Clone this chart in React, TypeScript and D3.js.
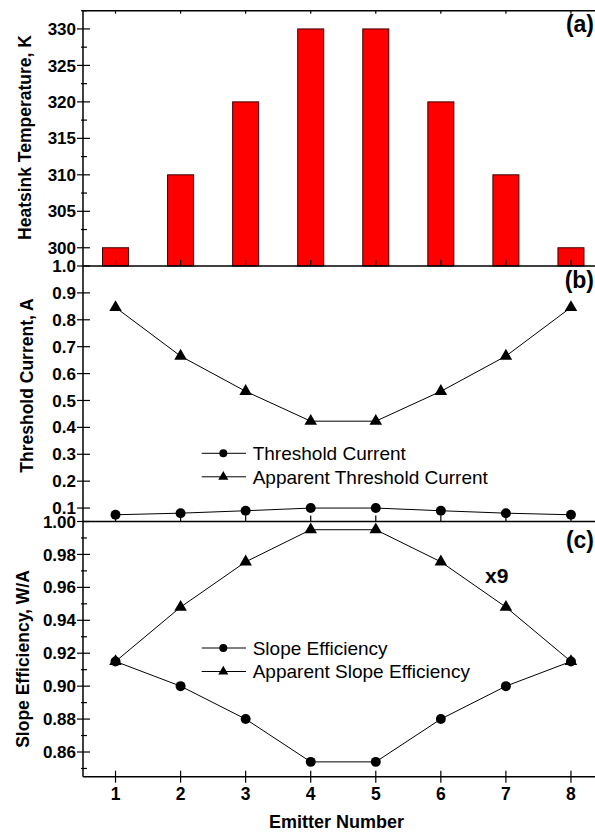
import React, { useRef, useEffect } from 'react';
import * as d3 from 'd3';

// values
const emitters = [1, 2, 3, 4, 5, 6, 7, 8];
const heatsinkTemp = [300, 310, 320, 330, 330, 320, 310, 300];
const thresholdCurrent = [0.075, 0.081, 0.09, 0.1, 0.1, 0.09, 0.081, 0.075];
const apparentThreshold = [0.846, 0.665, 0.534, 0.423, 0.423, 0.534, 0.665, 0.846];
const slopeEfficiency = [0.915, 0.9, 0.88, 0.854, 0.854, 0.88, 0.9, 0.915];
const apparentSlope = [0.915, 0.948, 0.9755, 0.995, 0.995, 0.9755, 0.948, 0.915];

const tempTicks = [300, 305, 310, 315, 320, 325, 330];
const tempMinor = [302.5, 307.5, 312.5, 317.5, 322.5, 327.5, 332.5];
const thresholdTicks = [0.1, 0.2, 0.3, 0.4, 0.5, 0.6, 0.7, 0.8, 0.9, 1.0];
const slopeTicks = [0.86, 0.88, 0.9, 0.92, 0.94, 0.96, 0.98, 1.0];
const slopeMinor = [0.85, 0.87, 0.89, 0.91, 0.93, 0.95, 0.97, 0.99];

const FONT = '"Liberation Sans", Arial, sans-serif';

export default function App() {
  const svgRef = useRef<SVGSVGElement>(null);

  useEffect(() => {
    const width = 595;
    const height = 835;
    const left = 83;
    const top = 10.7;
    const ab = 266;
    const bc = 521.5;
    const bottom = 776.7;

    const svg = d3.select(svgRef.current).attr('width', width).attr('height', height);
    svg.selectAll('*').remove();

    const x = d3.scaleLinear().domain([0.5, 8.5]).range([left, 603.5]);
    const ya = d3.scaleLinear().domain([297.5, 332.5]).range([ab, top]);
    const yb = d3.scaleLinear().domain([0.05, 1.0]).range([bc, ab]);
    const yc = d3.scaleLinear().domain([0.845, 1.0]).range([bottom, bc]);

    // bars (a), 0.4 emitter wide
    const barW = x(1.4) - x(1);
    svg.append('g')
      .selectAll('rect')
      .data(heatsinkTemp)
      .join('rect')
      .attr('x', (d, i) => x(emitters[i]) - barW / 2)
      .attr('y', d => ya(d))
      .attr('width', barW)
      .attr('height', d => ab - ya(d))
      .attr('fill', '#ff0000')
      .attr('stroke', '#3a0000')
      .attr('stroke-width', 1);

    // frame lines
    const frame = svg.append('g').attr('stroke', '#000').attr('stroke-width', 1.5);
    frame.append('line').attr('x1', left).attr('x2', 610).attr('y1', top).attr('y2', top);
    [ab, bc, bottom].forEach(yy => {
      frame.append('line').attr('x1', left).attr('x2', 610).attr('y1', yy).attr('y2', yy);
    });
    frame.append('line').attr('x1', left).attr('x2', left).attr('y1', top).attr('y2', bottom);

    // x ticks on each panel
    const tk = svg.append('g').attr('stroke', '#000').attr('stroke-width', 1.2);
    emitters.forEach(e => {
      tk.append('line').attr('x1', x(e)).attr('x2', x(e)).attr('y1', top).attr('y2', top + 3);
      tk.append('line').attr('x1', x(e)).attr('x2', x(e)).attr('y1', ab).attr('y2', ab - 6);
      tk.append('line').attr('x1', x(e)).attr('x2', x(e)).attr('y1', bc).attr('y2', bc - 6);
      tk.append('line').attr('x1', x(e)).attr('x2', x(e)).attr('y1', bottom - 6).attr('y2', bottom + 6);
    });

    const yTicks = (scale: any, major: number[], minor: number[]) => {
      major.forEach(v => {
        tk.append('line').attr('x1', left - 6).attr('x2', left + 7).attr('y1', scale(v)).attr('y2', scale(v));
      });
      minor.forEach(v => {
        tk.append('line').attr('x1', left - 2).attr('x2', left + 4).attr('y1', scale(v)).attr('y2', scale(v));
      });
    };
    yTicks(ya, tempTicks, tempMinor);
    yTicks(yb, thresholdTicks, []);
    yTicks(yc, slopeTicks, slopeMinor);

    const labels = svg.append('g')
      .attr('font-family', FONT)
      .attr('font-weight', 'bold')
      .attr('font-size', 17)
      .attr('text-anchor', 'end')
      .attr('fill', '#000');
    const addLabels = (scale: any, vals: number[], fmt: (v: number) => string) => {
      vals.forEach(v => {
        labels.append('text').attr('x', left - 7).attr('y', scale(v)).attr('dy', '0.36em').text(fmt(v));
      });
    };
    addLabels(ya, tempTicks, d3.format('d'));
    addLabels(yb, thresholdTicks, d3.format('.1f'));
    addLabels(yc, slopeTicks, d3.format('.2f'));

    // x tick labels
    svg.append('g')
      .attr('font-family', FONT)
      .attr('font-weight', 'bold')
      .attr('font-size', 17.5)
      .attr('text-anchor', 'middle')
      .selectAll('text')
      .data(emitters)
      .join('text')
      .attr('x', d => x(d))
      .attr('y', 800)
      .text(d => d);

    // series
    const drawSeries = (scale: any, vals: number[], sym: any, size: number) => {
      const line = d3.line<number>().x((d, i) => x(emitters[i])).y(d => scale(d));
      svg.append('path')
        .attr('d', line(vals))
        .attr('fill', 'none')
        .attr('stroke', '#000')
        .attr('stroke-width', 1);
      svg.append('g')
        .selectAll('path')
        .data(vals)
        .join('path')
        .attr('transform', (d, i) => `translate(${x(emitters[i])},${scale(d)})`)
        .attr('d', d3.symbol(sym, size)())
        .attr('fill', '#000');
    };
    drawSeries(yb, thresholdCurrent, d3.symbolCircle, 78);
    drawSeries(yb, apparentThreshold, d3.symbolTriangle, 68);
    drawSeries(yc, slopeEfficiency, d3.symbolCircle, 78);
    drawSeries(yc, apparentSlope, d3.symbolTriangle, 68);

    // legends
    const legend = (y0: number, names: string[]) => {
      const g = svg.append('g');
      names.forEach((name, i) => {
        const yy = y0 + i * 23.5;
        g.append('line').attr('x1', 201.7).attr('x2', 246).attr('y1', yy).attr('y2', yy)
          .attr('stroke', '#000').attr('stroke-width', 1);
        g.append('path')
          .attr('transform', `translate(223.3,${yy})`)
          .attr('d', d3.symbol(i === 0 ? d3.symbolCircle : d3.symbolTriangle, i === 0 ? 50 : 44)())
          .attr('fill', '#000');
        g.append('text')
          .attr('x', 252.7)
          .attr('y', yy)
          .attr('dy', '0.36em')
          .attr('font-family', FONT)
          .attr('font-size', 19)
          .text(name);
      });
    };
    legend(453.3, ['Threshold Current', 'Apparent Threshold Current']);
    legend(648, ['Slope Efficiency', 'Apparent Slope Efficiency']);

    // panel labels
    const bold = (txt: string, xx: number, yy: number, size: number, anchor: string) =>
      svg.append('text')
        .attr('x', xx).attr('y', yy)
        .attr('font-family', FONT).attr('font-weight', 'bold')
        .attr('font-size', size).attr('text-anchor', anchor)
        .text(txt);
    bold('(a)', 594, 32, 23, 'end');
    bold('(b)', 594, 288, 23, 'end');
    bold('(c)', 594, 548, 23, 'end');
    bold('x9', 485, 583, 21, 'start');
    bold('Emitter Number', 336.5, 828, 18, 'middle');

    // y titles
    const yTitle = (txt: string, cx: number, cy: number) =>
      svg.append('text')
        .attr('transform', `translate(${cx},${cy}) rotate(-90)`)
        .attr('font-family', FONT).attr('font-weight', 'bold')
        .attr('font-size', 17.5).attr('text-anchor', 'middle')
        .attr('dy', '0.36em')
        .text(txt);
    yTitle('Heatsink Temperature, K', 24.5, 137.5);
    yTitle('Threshold Current, A', 27, 385.5);
    yTitle('Slope Efficiency, W/A', 23, 659);
  }, []);

  return (
    <div style={{ position: 'absolute', left: 0, top: 0 }}>
      <svg ref={svgRef} style={{ display: 'block', background: '#fff' }}></svg>
    </div>
  );
}
